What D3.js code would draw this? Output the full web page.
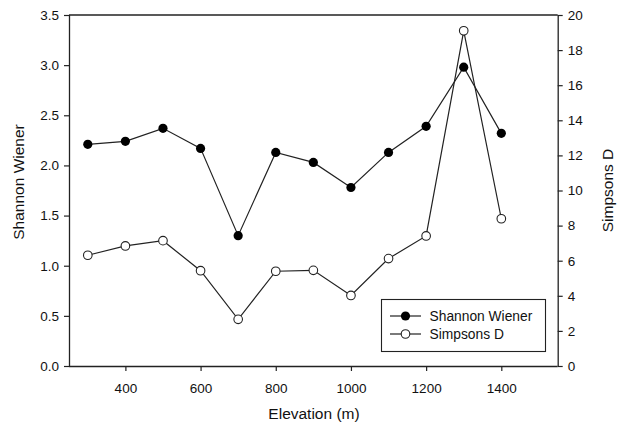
<!DOCTYPE html>
<html>
<head>
<meta charset="utf-8">
<script src="https://cdn.jsdelivr.net/npm/d3@7"></script>
<style>
  html, body { margin: 0; padding: 0; background: #fff; }
  svg { display: block; font-family: "Liberation Sans", Arial, sans-serif; }
</style>
</head>
<body>
<svg id="chart" width="619" height="425"></svg>
<script>
// Elevation (m) and diversity indices per elevation band
const elevation = [300, 400, 500, 600, 700, 800, 900, 1000, 1100, 1200, 1300, 1400];
const shannonWiener = [2.21, 2.24, 2.37, 2.17, 1.30, 2.13, 2.03, 1.78, 2.13, 2.39, 2.98, 2.32];
const simpsonsD = [6.31, 6.84, 7.14, 5.43, 2.66, 5.40, 5.45, 4.02, 6.12, 7.41, 19.1, 8.39];
const xTicks = [400, 600, 800, 1000, 1200, 1400];
const leftTicks = [0, 0.5, 1.0, 1.5, 2.0, 2.5, 3.0, 3.5];
const rightTicks = [0, 2, 4, 6, 8, 10, 12, 14, 16, 18, 20];

const svg = d3.select("#chart");
const plotLeft = 69, plotRight = 557.7, plotTop = 15, plotBottom = 366;

const x = d3.scaleLinear().domain([250, 1550]).range([plotLeft, plotRight]);
const yL = d3.scaleLinear().domain([0, 3.5]).range([plotBottom, plotTop]);
const yR = d3.scaleLinear().domain([0, 20]).range([plotBottom, plotTop]);

const ink = "#222";

// Axes
const xAxis = svg.append("g").attr("transform", `translate(0,${plotBottom})`)
  .call(d3.axisBottom(x).tickValues(xTicks).tickSize(5).tickPadding(12).tickFormat(d3.format("d")));
const lAxis = svg.append("g").attr("transform", `translate(${plotLeft},0)`)
  .call(d3.axisLeft(yL).tickValues(leftTicks).tickSize(5).tickPadding(5).tickFormat(d3.format(".1f")));
const rAxis = svg.append("g").attr("transform", `translate(${plotRight},0)`)
  .call(d3.axisRight(yR).tickValues(rightTicks).tickSize(5).tickPadding(5).tickFormat(d3.format("d")));

[xAxis, lAxis, rAxis].forEach(g => {
  g.select(".domain").attr("stroke", ink).attr("stroke-width", 1.3);
  g.selectAll(".tick line").attr("stroke", ink).attr("stroke-width", 1.2);
  g.selectAll(".tick text").attr("fill", "#111").style("font-size", "13.5px")
    .style("font-family", '"Liberation Sans", Arial, sans-serif');
});
xAxis.select(".domain").attr("d", `M${plotLeft},0.5H${plotRight}`);
lAxis.select(".domain").attr("d", `M0.5,${plotBottom}V${plotTop}`);
rAxis.select(".domain").attr("d", `M0.5,${plotBottom}V${plotTop}`);

// Top frame line
svg.append("line")
  .attr("x1", plotLeft).attr("x2", plotRight).attr("y1", plotTop).attr("y2", plotTop)
  .attr("stroke", ink).attr("stroke-width", 1.3);

// Axis titles
svg.append("text").attr("x", 314).attr("y", 418.5).attr("text-anchor", "middle")
  .style("font-size", "15.5px").attr("fill", "#111").text("Elevation (m)");
svg.append("text").attr("transform", `translate(24,182) rotate(-90)`)
  .attr("text-anchor", "middle").style("font-size", "15.5px").attr("fill", "#111").text("Shannon Wiener");
svg.append("text").attr("transform", `translate(613,${(plotTop + plotBottom) / 2}) rotate(-90)`)
  .attr("text-anchor", "middle").style("font-size", "15.5px").attr("fill", "#111").text("Simpsons D");

// Series lines
const lineL = d3.line().x((d, i) => x(elevation[i])).y(d => yL(d));
const lineR = d3.line().x((d, i) => x(elevation[i])).y(d => yR(d));

svg.append("path").datum(shannonWiener).attr("d", lineL)
  .attr("fill", "none").attr("stroke", ink).attr("stroke-width", 1.2);
svg.append("path").datum(simpsonsD).attr("d", lineR)
  .attr("fill", "none").attr("stroke", ink).attr("stroke-width", 1.2);

// Markers
svg.append("g").selectAll("circle").data(simpsonsD).join("circle")
  .attr("cx", (d, i) => x(elevation[i])).attr("cy", d => yR(d)).attr("r", 4.3)
  .attr("fill", "#fff").attr("stroke", ink).attr("stroke-width", 1.1);
svg.append("g").selectAll("circle").data(shannonWiener).join("circle")
  .attr("cx", (d, i) => x(elevation[i])).attr("cy", d => yL(d)).attr("r", 4.6)
  .attr("fill", "#000");

// Legend
const lg = svg.append("g");
lg.append("rect").attr("x", 381.5).attr("y", 299.5).attr("width", 164).attr("height", 52)
  .attr("fill", "#fff").attr("stroke", ink).attr("stroke-width", 1.1);
const entries = [
  { name: "Shannon Wiener", fill: "#000", cy: 316 },
  { name: "Simpsons D", fill: "#fff", cy: 334 }
];
entries.forEach(e => {
  lg.append("line").attr("x1", 390).attr("x2", 421).attr("y1", e.cy).attr("y2", e.cy)
    .attr("stroke", ink).attr("stroke-width", 1.2);
  lg.append("circle").attr("cx", 405.5).attr("cy", e.cy).attr("r", e.fill === "#000" ? 4.6 : 4.3)
    .attr("fill", e.fill).attr("stroke", ink).attr("stroke-width", e.fill === "#000" ? 0 : 1.1);
  lg.append("text").attr("x", 429.5).attr("y", e.cy + 4.8).style("font-size", "13.8px")
    .attr("fill", "#111").text(e.name);
});
</script>
</body>
</html>
